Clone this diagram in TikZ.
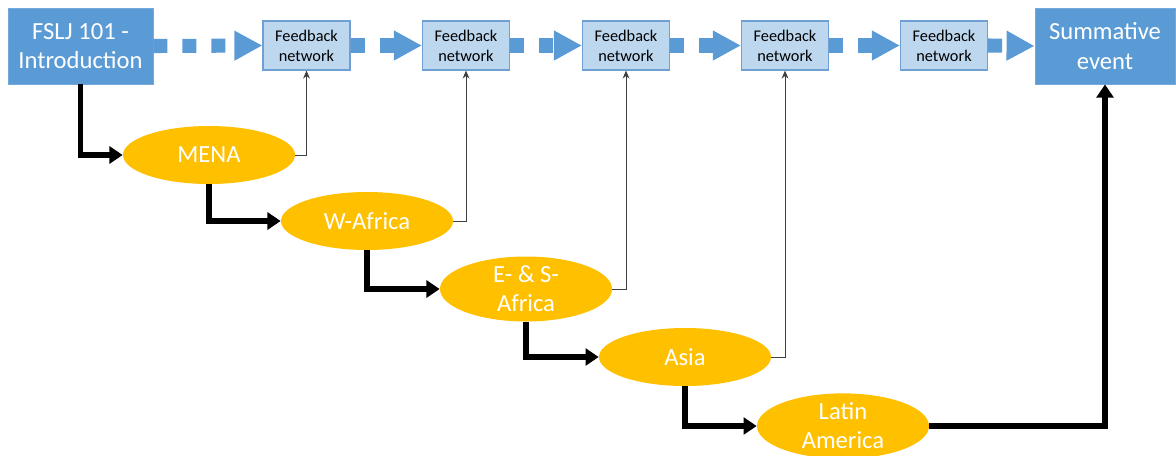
\documentclass[tikz,border=0pt]{standalone}
\usepackage{fontspec}
\setmainfont{Carlito}
\usetikzlibrary{arrows.meta,shapes.geometric}

\definecolor{darkblue}{HTML}{5B9BD5}
\definecolor{lightblue}{HTML}{BDD7EE}
\definecolor{fbborder}{HTML}{6F9FD3}
\definecolor{gold}{HTML}{FFC000}
\definecolor{thingray}{HTML}{404040}

\begin{document}
\begin{tikzpicture}[x=0.025cm,y=-0.025cm,
		bigbox/.style={rectangle, fill=darkblue, draw=darkblue!85!white, line width=0.6pt, text=white,
			minimum height=1.9cm, align=center, inner sep=0pt, font=\fontsize{17.5}{21}\selectfont},
		fbbox/.style={rectangle, fill=lightblue, draw=fbborder, line width=0.8pt, text=black,
			minimum width=2.175cm, minimum height=1.225cm, align=center, inner sep=0pt,
			font=\fontsize{11.6}{14.2}\selectfont},
		region/.style={ellipse, fill=gold, text=white, minimum width=4.3cm, minimum height=1.45cm,
			inner sep=0pt, align=center, font=\fontsize{17.5}{20.6}\selectfont},
		flow/.style={draw=darkblue, line width=10pt, dash pattern=on 0.35cm off 0.375cm,
			-{Triangle[length=0.7cm,width=0.7cm]}},
		route/.style={draw=black, line width=3.6pt, -{Triangle[length=0.33cm,width=0.42cm]}},
		report/.style={draw=thingray, line width=0.7pt, -{Stealth[length=0.2cm,width=0.17cm]}}]
				\useasboundingbox (0,0) rectangle (1176,455);
				% top row
				\node[bigbox, minimum width=3.625cm] (intro) at (80.5,46) {FSLJ 101 -\\Introduction};
				\node[bigbox, minimum width=3.5cm] (summ) at (1105,46) {Summative\\event};
				\node[fbbox] (fb1) at (306.5,45.5) {Feedback\\network};
				\node[fbbox] (fb2) at (466,45.5) {Feedback\\network};
				\node[fbbox] (fb3) at (626,45.5) {Feedback\\network};
				\node[fbbox] (fb4) at (785,45.5) {Feedback\\network};
				\node[fbbox] (fb5) at (944,45.5) {Feedback\\network};
				% regions
				\node[region] (mena) at (209,155) {MENA};
				\node[region] (wafr) at (367,221) {W-Africa};
				\node[region] (esafr) at (526,289) {E- \& S-\\Africa};
				\node[region] (asia) at (685,357) {Asia};
				\node[region] (latam) at (843,426) {Latin\\America};
				% feedback chain
				\draw[flow] (intro.east) -- (fb1.west);
				\draw[flow] (fb1.east) -- (fb2.west);
				\draw[flow] (fb2.east) -- (fb3.west);
				\draw[flow] (fb3.east) -- (fb4.west);
				\draw[flow] (fb4.east) -- (fb5.west);
				\draw[flow] (fb5.east) -- (summ.west);
				% course route
				\draw[route] (intro.south) |- (mena.west);
				\draw[route] (mena.south) |- (wafr.west);
				\draw[route] (wafr.south) |- (esafr.west);
				\draw[route] (esafr.south) |- (asia.west);
				\draw[route] (asia.south) |- (latam.west);
				\draw[route] (latam.east) -| (summ.south);
				% reports to feedback networks
				\draw[report] (mena.east) -| (fb1.south);
				\draw[report] (wafr.east) -| (fb2.south);
				\draw[report] (esafr.east) -| (fb3.south);
				\draw[report] (asia.east) -| (fb4.south);
			\end{tikzpicture}
\end{document}
